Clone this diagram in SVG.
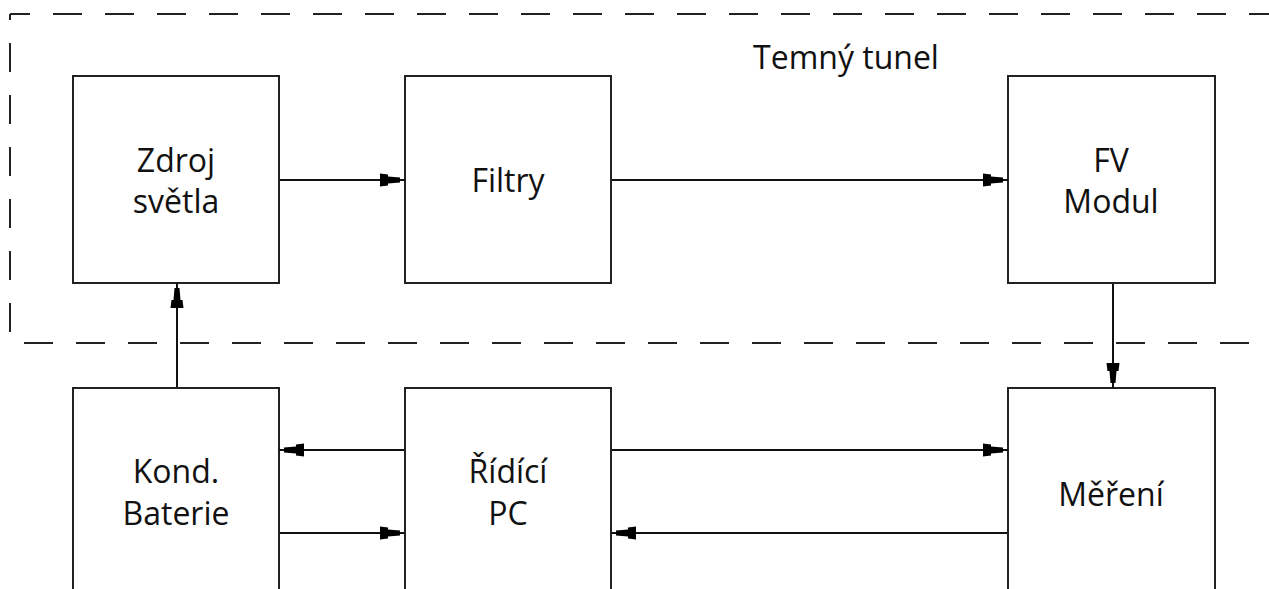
<svg xmlns="http://www.w3.org/2000/svg" width="1269" height="589" viewBox="0 0 1269 589">
<style>
.box{fill:#fff;stroke:#222;stroke-width:2}
.t{font-family:"Open Sans","Noto Sans",sans-serif;font-size:32px;fill:#111;text-anchor:middle}
.c{stroke:#111;stroke-width:2;fill:none}
.d{stroke:#222;stroke-width:2;fill:none;stroke-dasharray:29 23}
</style>
<defs>
<marker id="a" markerUnits="userSpaceOnUse" markerWidth="30" markerHeight="16" viewBox="-26 -8 30 16" refX="0" refY="0" orient="auto">
<path d="M-25,-6.5 L-17,-5.5 L-17,-3.5 L-5,-2.5 L-5,2.5 L-17,3.5 L-17,5.5 L-25,6.5 Z" fill="#000"/>
</marker>
</defs>
<rect width="1269" height="589" fill="#fff"/>
<g id="tunnel">
<line class="d" x1="10" y1="14" x2="1269" y2="14" stroke-dashoffset="9"/>
<line class="d" x1="10" y1="14" x2="10" y2="343" stroke-dashoffset="23"/>
<line class="d" x1="10" y1="343" x2="1269" y2="343" stroke-dashoffset="38"/>
<text class="t" x="846" y="69">Temný tunel</text>
</g>
<g id="zdroj">
<rect class="box" x="73" y="76" width="206" height="207"/>
<text class="t" x="176" y="172">Zdroj</text>
<text class="t" x="176" y="213">světla</text>
</g>
<g id="filtry">
<rect class="box" x="405" y="76" width="206" height="207"/>
<text class="t" x="508" y="192">Filtry</text>
</g>
<g id="fv">
<rect class="box" x="1008" y="76" width="207" height="207"/>
<text class="t" x="1111" y="172">FV</text>
<text class="t" x="1111" y="213">Modul</text>
</g>
<g id="kond">
<rect class="box" x="73" y="388" width="206" height="220"/>
<text class="t" x="176" y="483">Kond.</text>
<text class="t" x="176" y="525">Baterie</text>
</g>
<g id="pc">
<rect class="box" x="405" y="388" width="206" height="220"/>
<text class="t" x="508" y="483">Řídící</text>
<text class="t" x="508" y="525">PC</text>
</g>
<g id="mereni">
<rect class="box" x="1008" y="388" width="207" height="220"/>
<text class="t" x="1111" y="506">Měření</text>
</g>
<g id="connectors">
<line class="c" x1="280" y1="180" x2="405" y2="180" marker-end="url(#a)"/>
<line class="c" x1="612" y1="180" x2="1008" y2="180" marker-end="url(#a)"/>
<line class="c" x1="1113" y1="284" x2="1113" y2="388" marker-end="url(#a)"/>
<line class="c" x1="177" y1="387" x2="177" y2="283" marker-end="url(#a)"/>
<line class="c" x1="404" y1="450" x2="279" y2="450" marker-end="url(#a)"/>
<line class="c" x1="280" y1="533" x2="405" y2="533" marker-end="url(#a)"/>
<line class="c" x1="612" y1="450" x2="1008" y2="450" marker-end="url(#a)"/>
<line class="c" x1="1007" y1="533" x2="611" y2="533" marker-end="url(#a)"/>
</g>
</svg>
